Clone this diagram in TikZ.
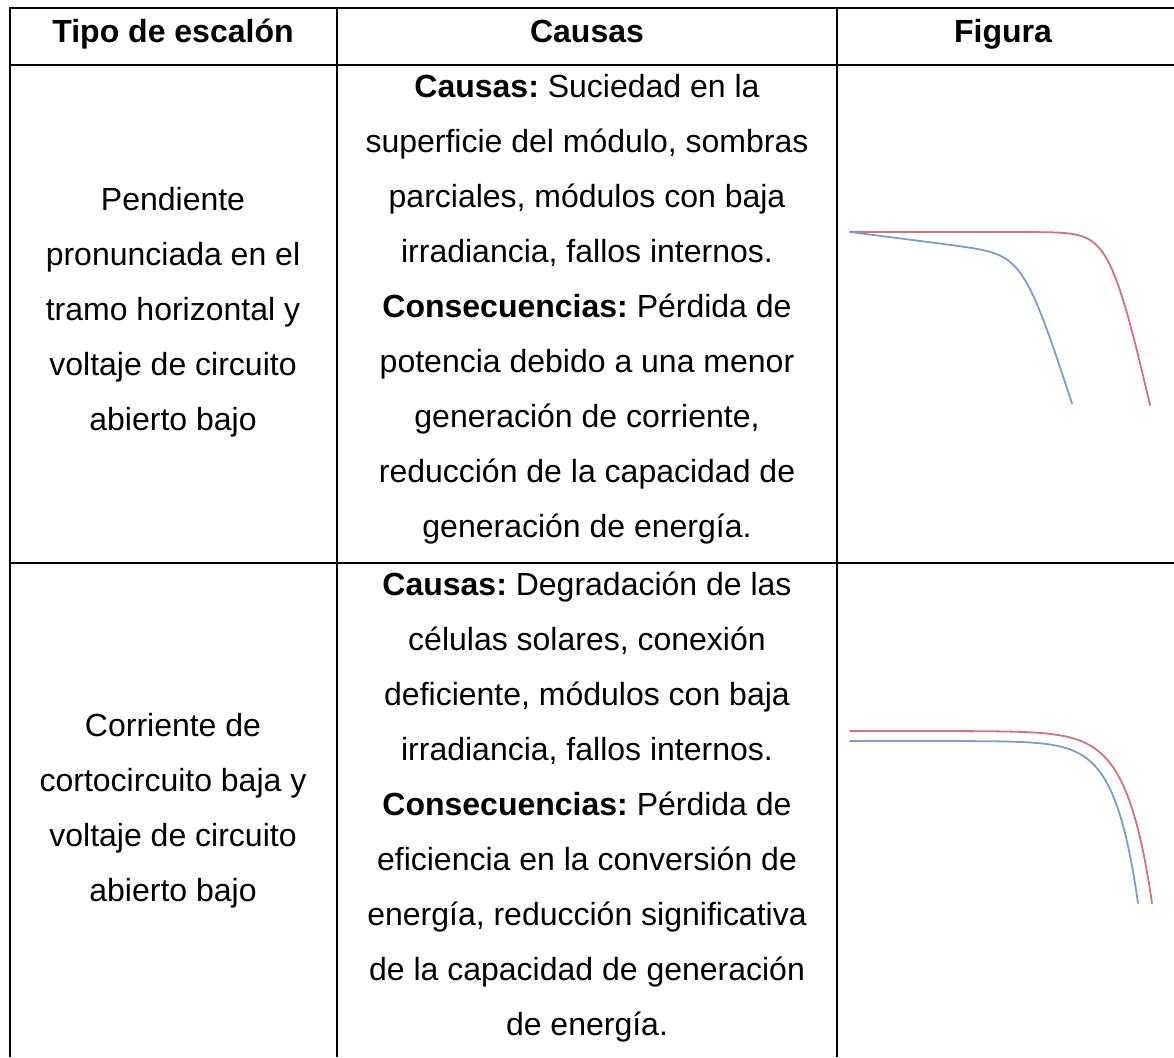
\documentclass[tikz,border=0pt]{standalone}
\usepackage{fontspec}
\setmainfont{Liberation Sans}
\usetikzlibrary{positioning}
\frenchspacing

\definecolor{curveRed}{RGB}{214,112,122}
\definecolor{curveBlue}{RGB}{125,156,202}

\tikzset{
	grid line/.style={line width=1.2pt, black},
	cell/.style={align=center, inner sep=0pt, font=\fontsize{16}{27.5}\selectfont},
	head/.style={cell, anchor=base, font=\fontsize{16}{27.5}\selectfont\bfseries},
	iv curve/.style={line width=0.9pt, line cap=round, samples=120},
}

\begin{document}
\begin{tikzpicture}[x=0.5pt, y=-0.5pt]

	\def\xL{10}
	\def\xA{337}
	\def\xB{837}
	\def\xR{1174}
	\def\yT{8}
	\def\yH{65}
	\def\yM{563}
	\def\yB{1057}

	\useasboundingbox (0,0) rectangle (\xR,\yB);

	% grid
	\draw [grid line] (\xL,\yB) -- (\xL,\yT) -- (\xR,\yT);
	\draw [grid line] (\xL,\yH) -- (\xR,\yH);
	\draw [grid line] (\xL,\yM) -- (\xR,\yM);
	\foreach \x in {\xA,\xB}{
		\draw [grid line] (\x,\yT) -- (\x,\yB);
	}

	% header
	\node[head] (hTipo) at (173,42) {Tipo de escalón};
	\node[head] (hCausas) at (587,42) {Causas};
	\node[head] (hFigura) at (1003,42) {Figura};

	% row 1
	\node[cell] (tipoA) at (173,312)
		{Pendiente\\pronunciada en el\\tramo horizontal y\\voltaje de circuito\\abierto bajo};
	\node[cell] (causaA) at (587,309)
		{\textbf{Causas:} Suciedad en la\\superficie del módulo, sombras\\parciales, módulos con baja\\irradiancia, fallos internos.\\
		\textbf{Consecuencias:} Pérdida de\\potencia debido a una menor\\generación de corriente,\\reducción de la capacidad de\\generación de energía.};

	% row 2
	\node[cell] (tipoB) at (173,811)
		{Corriente de\\cortocircuito baja y\\voltaje de circuito\\abierto bajo};
	\node[cell] (causaB) at (587,807)
		{\textbf{Causas:} Degradación de las\\células solares, conexión\\deficiente, módulos con baja\\irradiancia, fallos internos.\\
		\textbf{Consecuencias:} Pérdida de\\eficiencia en la conversión de\\energía, reducción significativa\\de la capacidad de generación\\de energía.};

	% figura A
	\draw [iv curve, curveRed] plot[domain=850:1150]
		(\x, {232 + 54*ln(1 + exp((\x-1112)/12))});
	\draw [iv curve, curveBlue] plot[domain=850:1072]
		(\x, {232 + 0.128*(\x-850) + 36*ln(1 + exp((\x-1024.5)/12))});

	% figura B
	\draw [iv curve, curveRed] plot[domain=850:1152]
		(\x, {731 + 172*exp((\x-1152)/25)});
	\draw [iv curve, curveBlue] plot[domain=850:1138]
		(\x, {741 + 162*exp((\x-1138)/23)});

\end{tikzpicture}
\end{document}
